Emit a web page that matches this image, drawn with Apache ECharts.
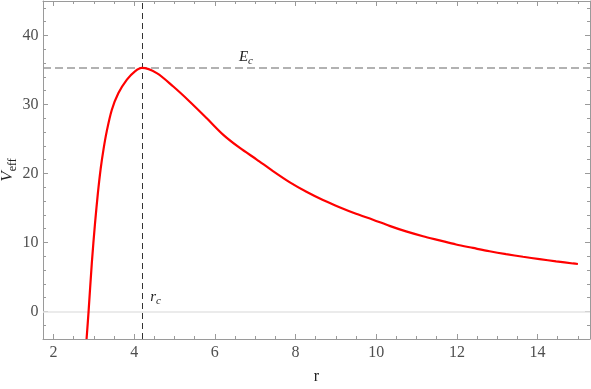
<!DOCTYPE html>
<html>
<head>
<meta charset="utf-8">
<script src="https://cdn.jsdelivr.net/npm/echarts@6/dist/echarts.min.js"></script>
<style>
  html, body { margin: 0; padding: 0; background: #fff; }
  #main { width: 591px; height: 389px; }
</style>
</head>
<body>
<div id="main"></div>
<script>
// effective potential
var rValues = [2.82, 2.87, 2.95, 3.03, 3.10, 3.17, 3.24, 3.32, 3.445, 3.61, 3.82, 4.02, 4.19,
  4.56, 4.97, 5.38, 5.80, 6.21, 6.62, 7.03, 7.44, 7.85, 8.27, 8.68, 9.09, 9.50, 9.92, 10.33,
  10.74, 11.16, 11.57, 11.98, 12.40, 12.81, 13.22, 13.64, 14.05, 14.46, 14.88, 15.0];
var vValues = [-4.0, 0.0, 7.0, 12.8, 17.1, 20.7, 23.5, 26.1, 29.2, 31.65, 33.6, 34.8, 35.3,
  34.55, 32.6, 30.4, 28.0, 25.6, 23.7, 22.05, 20.35, 18.75, 17.35, 16.15, 15.1, 14.15, 13.3, 12.4,
  11.6, 10.9, 10.3, 9.7, 9.2, 8.72, 8.3, 7.92, 7.58, 7.25, 6.95, 6.87];

var rCrit = 4.19;   // r_c
var eCrit = 35.36;  // E_c

var xMajor = [2, 4, 6, 8, 10, 12, 14];
var xMinor = [2.5, 3, 3.5, 4.5, 5, 5.5, 6.5, 7, 7.5, 8.5, 9, 9.5, 10.5, 11, 11.5,
  12.5, 13, 13.5, 14.5, 15];
var yMajor = [0, 10, 20, 30, 40];
var yMinor = [-2, 2, 4, 6, 8, 12, 14, 16, 18, 22, 24, 26, 28, 32, 34, 36, 38, 42, 44];

var xMin = 1.74, xMax = 15.3, yMin = -4, yMax = 45;

var serif = '"Liberation Serif", "DejaVu Serif", serif';
var frame = '#9a9a9a';
var ink = '#222';

var data = rValues.map(function (r, i) { return [r, vValues[i]]; });

function axis(kind, pos, ticks, len) {
  var horiz = kind === 'x';
  return {
    type: 'value',
    position: pos,
    min: horiz ? xMin : yMin,
    max: horiz ? xMax : yMax,
    axisLine: { show: len > 4, onZero: false, lineStyle: { color: frame, width: 1 } },
    axisTick: { show: true, inside: true, length: len, customValues: ticks,
      lineStyle: { color: frame, width: 1 } },
    axisLabel: { show: false },
    splitLine: { show: false }
  };
}

var xAxes = [
  axis('x', 'bottom', xMajor, 5),
  axis('x', 'bottom', xMinor, 3),
  axis('x', 'top', xMajor, 5),
  axis('x', 'top', xMinor, 3)
];
xAxes[0].name = '{n|r}';
xAxes[0].nameLocation = 'middle';
xAxes[0].nameGap = 30;
xAxes[0].nameMoveOverlap = false;
xAxes[0].nameTextStyle = { rich: { n: { fontFamily: serif, fontSize: 16, color: ink } } };

var yAxes = [
  axis('y', 'left', yMajor, 5),
  axis('y', 'left', yMinor, 3),
  axis('y', 'right', yMajor, 5),
  axis('y', 'right', yMinor, 3)
];
yAxes[0].name = '{i|V}{s|eff}';
yAxes[0].nameLocation = 'middle';
yAxes[0].nameRotate = 90;
yAxes[0].nameGap = 24;
yAxes[0].nameMoveOverlap = false;
yAxes[0].nameTextStyle = {
  rich: {
    i: { fontFamily: serif, fontStyle: 'italic', fontSize: 17, color: ink, verticalAlign: 'bottom', lineHeight: 18, padding: [0, 0, 3, 0] },
    s: { fontFamily: serif, fontSize: 12, color: ink, verticalAlign: 'bottom', lineHeight: 13 }
  }
};

var labelRich = {
  i: { fontFamily: serif, fontStyle: 'italic', fontSize: 15, color: ink, verticalAlign: 'bottom', lineHeight: 16, padding: [0, 0, 2, 0] },
  s: { fontFamily: serif, fontStyle: 'italic', fontSize: 11, color: ink, verticalAlign: 'bottom', lineHeight: 12 }
};

// tick labels, placed on the axis edges through the scales
function tickLabels(points, pos, dist, pick) {
  return {
    type: 'scatter',
    silent: true,
    clip: false,
    symbolSize: 1,
    itemStyle: { color: 'rgba(0,0,0,0)' },
    data: points,
    label: {
      show: true, position: pos, distance: dist,
      formatter: function (p) { return '{t|' + p.value[pick] + '}'; },
      rich: { t: { fontFamily: serif, fontSize: 16, color: ink } }
    },
    z: 5
  };
}

var myChart = echarts.init(document.getElementById('main'), null, { renderer: 'canvas' });

var option = {
  animation: false,
  backgroundColor: '#fff',
  textStyle: { fontFamily: serif },
  grid: { left: 43, right: 1, top: 1, bottom: 50, outerBoundsMode: 'none' },
  xAxis: xAxes,
  yAxis: yAxes,
  series: [
    {
      type: 'line',
      data: data,
      xAxisIndex: 0,
      yAxisIndex: 0,
      showSymbol: false,
      symbol: 'none',
      smooth: 0.3,
      clip: true,
      lineStyle: { color: '#ff0000', width: 2.2 },
      markLine: {
        silent: true,
        symbol: ['none', 'none'],
        label: { show: false },
        z: 1,
        data: [
          { yAxis: 0, lineStyle: { color: '#e4e4e4', width: 1.5, type: 'solid' } },
          { xAxis: rCrit, lineStyle: { color: '#333', width: 1, type: [6, 4] } },
          { yAxis: eCrit, lineStyle: { color: '#999', width: 1.6, type: [8, 4] } }
        ]
      },
      markPoint: {
        silent: true,
        symbol: 'circle',
        symbolSize: 1,
        itemStyle: { color: 'rgba(0,0,0,0)' },
        label: { show: true, position: 'inside', rich: labelRich },
        data: [
          { coord: [6.77, 36.6], label: { formatter: '{i|E}{s|c}' } },
          { coord: [4.53, 1.85], label: { formatter: '{i|r}{s|c}' } }
        ]
      }
    },
    tickLabels(xMajor.map(function (v) { return [v, yMin]; }), 'bottom', 5, 0),
    tickLabels(yMajor.map(function (v) { return [xMin, v]; }), 'left', 4, 1)
  ]
};

if (option && typeof option === 'object') {
  myChart.setOption(option);
}

window.addEventListener('resize', myChart.resize);
</script>
</body>
</html>
